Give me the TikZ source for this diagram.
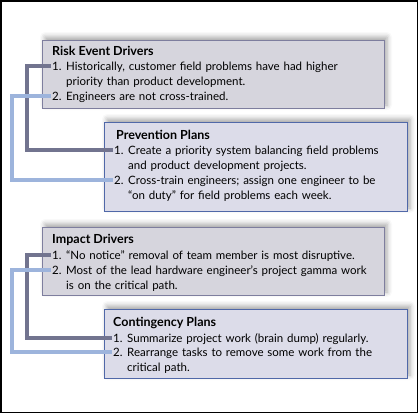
\documentclass[tikz,border=0pt]{standalone}
\usepackage{fontspec}
\setmainfont{Lato}
\usetikzlibrary{positioning, shadows.blur}

\definecolor{drvfill}{HTML}{D6D5DD}
\definecolor{drvline}{HTML}{7E7E9E}
\definecolor{planfill}{HTML}{DCDCE9}
\definecolor{planline}{HTML}{5068A8}
\definecolor{linkdark}{HTML}{72748F}
\definecolor{linklight}{HTML}{9DB4DC}

\tikzset{
  shadowed/.style={blur shadow={shadow xshift=3pt, shadow yshift=3pt,
      shadow blur radius=5pt, shadow opacity=35}},
  drvbox/.style={draw=drvline, fill=drvfill, line width=1pt, outer sep=0pt,
      anchor=north west, shadowed},
  planbox/.style={draw=planline, fill=planfill, line width=1pt, outer sep=0pt,
      anchor=north west, shadowed},
  head/.style={font=\fontsize{12.5pt}{15pt}\selectfont\bfseries, inner sep=0pt, anchor=base west},
  item/.style={inner sep=0pt, anchor=base west, align=left, text width=#1},
  item/.default=330pt,
  darklink/.style={draw=linkdark, line width=4pt, shorten <=1pt, shorten >=1pt},
  lightlink/.style={draw=linklight, line width=4pt, shorten <=1pt, shorten >=1pt},
}

\newcommand{\nr}[1]{\makebox[14pt][l]{#1.}}
\newcommand{\cont}{\hspace*{14pt}}

\begin{document}
\begin{tikzpicture}[x=1pt, y=-1pt, font=\fontsize{11.5pt}{15pt}\selectfont]
    \useasboundingbox (0,0) rectangle (418,413);
    \draw[line width=1.5pt] (0.75,0.75) rectangle (417.25,412.25);

    % Risk event drivers
    \node (rd) [drvbox, minimum width=342, minimum height=68] at (42,40) {};
    \node (rdh) [head] at (52,55) {Risk Event Drivers};
    \node (rd1) [item] at (52,70) {\nr{1}Historically, customer field problems have had higher\\
        \cont priority than product development.};
    \node (rd2) [item] at (52,100) {\nr{2}Engineers are not cross-trained.};

    % Prevention plans
    \node (pp) [planbox, minimum width=303, minimum height=89] at (104,122) {};
    \node (pph) [head] at (116,139) {Prevention Plans};
    \node (pp1) [item=285pt] at (114,154) {\nr{1}Create a priority system balancing field problems\\
        \cont and product development projects.};
    \node (pp2) [item=285pt] at (114,184) {\nr{2}Cross-train engineers; assign one engineer to be\\
        \cont ``on duty'' for field problems each week.};

    % Impact drivers
    \node (id) [drvbox, minimum width=342, minimum height=68] at (42,227) {};
    \node (idh) [head] at (52,243) {Impact Drivers};
    \node (id1) [item] at (52,259) {\nr{1}``No notice'' removal of team member is most disruptive.};
    \node (id2) [item] at (52,274) {\nr{2}Most of the lead hardware engineer's project gamma work\\
        \cont is on the critical path.};

    % Contingency plans
    \node (cp) [planbox, minimum width=303, minimum height=69] at (104,309) {};
    \node (cph) [head] at (113,326) {Contingency Plans};
    \node (cp1) [item=285pt] at (113,342) {\nr{1}Summarize project work (brain dump) regularly.};
    \node (cp2) [item=285pt] at (113,356) {\nr{2}Rearrange tasks to remove some work from the\\
        \cont critical path.};

    % Links
    \draw[darklink] ([yshift=4pt]rd1.base west) -- ++(-25,0) |- ([yshift=4pt]pp1.base west);
    \draw[lightlink] ([yshift=4pt]rd2.base west) -- ++(-40,0) |- ([yshift=4pt]pp2.base west);
    \draw[darklink] ([yshift=4pt]id1.base west) -- ++(-25,0) |- ([yshift=4pt]cp1.base west);
    \draw[lightlink] ([yshift=4pt]id2.base west) -- ++(-40,0) |- ([yshift=4pt]cp2.base west);
\end{tikzpicture}
\end{document}
